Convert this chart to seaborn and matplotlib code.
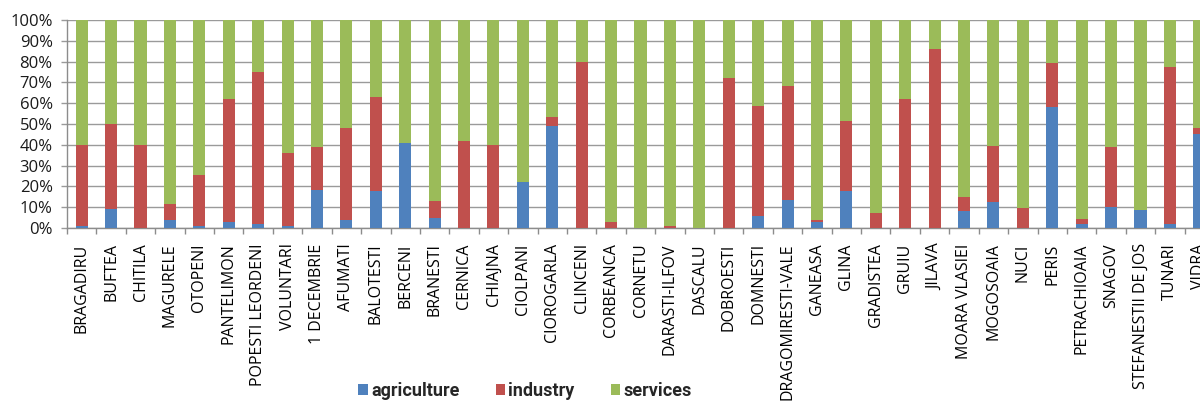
import matplotlib
matplotlib.use("Agg")
import matplotlib.pyplot as plt
import seaborn as sns
import pandas as pd
import numpy as np
from matplotlib.patches import Patch

categories = ["BRAGADIRU", "BUFTEA", "CHITILA", "MAGURELE", "OTOPENI", "PANTELIMON",
              "POPESTI LEORDENI", "VOLUNTARI", "1 DECEMBRIE", "AFUMATI", "BALOTESTI",
              "BERCENI", "BRANESTI", "CERNICA", "CHIAJNA", "CIOLPANI", "CIOROGARLA",
              "CLINCENI", "CORBEANCA", "CORNETU", "DARASTI-ILFOV", "DASCALU", "DOBROESTI",
              "DOMNESTI", "DRAGOMIRESTI-VALE", "GANEASA", "GLINA", "GRADISTEA", "GRUIU",
              "JILAVA", "MOARA VLASIEI", "MOGOSOAIA", "NUCI", "PERIS", "PETRACHIOAIA",
              "SNAGOV", "STEFANESTII DE JOS", "TUNARI", "VIDRA"]

agriculture = [1, 9, 0, 4, 1, 3, 2, 1, 18.4, 4, 18, 41, 5, 0, 0, 22, 49, 0, 0, 0, 0, 0, 0,
               6, 13.5, 3, 18, 0, 0, 0, 8, 12.6, 0, 58, 2, 10, 8.5, 2, 45]
industry = [39, 41, 40, 7.6, 24.3, 59, 73, 35, 20.6, 44, 45, 0, 8, 42, 40, 0, 4.5, 80, 3, 0, 1, 0, 72,
            52.5, 55, 1, 33.5, 7, 62, 86, 7, 27, 9.5, 21.5, 2.2, 29, 0, 75.5, 3]
services = [100 - a - i for a, i in zip(agriculture, industry)]

yticks = [0, 10, 20, 30, 40, 50, 60, 70, 80, 90, 100]
ytick_labels = [f"{t}%" for t in yticks]
series_names = ["agriculture", "industry", "services"]
colors = ["#4F81BD", "#C0504D", "#9BBB59"]

df = pd.DataFrame({"commune": categories, "agriculture": agriculture,
                   "industry": industry, "services": services})

sns.set_theme(style="white")
plt.rcParams["font.family"] = ["Open Sans", "DejaVu Sans"]

fig = plt.figure(figsize=(12, 4.03), dpi=100)
ax = fig.add_axes([67 / 1200, 175 / 403, 1147 / 1200, 208 / 403])

bottom = np.zeros(len(categories))
for name, col in zip(series_names, colors):
    sns.barplot(data=df, x="commune", y=name, color=col, bottom=bottom,
                width=0.41, ax=ax, saturation=1, zorder=3, linewidth=0)
    bottom = bottom + df[name].values

ax.set_xlim(-0.5, len(categories) - 0.5)
ax.set_ylim(0, 100)
ax.set_yticks(yticks)
ax.set_yticklabels(ytick_labels, fontsize=12, color="#1a1a1a")
ax.yaxis.grid(True, color="#9a9a9a", linewidth=1, zorder=0)
ax.set_axisbelow(True)
ax.set_xlabel("")
ax.set_ylabel("")

ax.set_xticks(range(len(categories)))
ax.set_xticklabels(categories, rotation=90, fontsize=11.5, color="#000000")
ax.tick_params(axis="x", which="major", bottom=True, length=0, pad=11)
ax.tick_params(axis="y", left=True, length=4.3, width=1, color="#9a9a9a", direction="out", pad=6)
# boundary tick marks
ax.set_xticks(np.arange(-0.5, len(categories), 1), minor=True)
ax.tick_params(axis="x", which="minor", bottom=True, length=4, color="#8c8c8c", width=1,
               direction="out")

for s in ["top", "right"]:
    ax.spines[s].set_visible(False)
for s in ["left", "bottom"]:
    ax.spines[s].set_color("#8c8c8c")
    ax.spines[s].set_linewidth(1)

handles = [Patch(facecolor=c, edgecolor="none") for c in colors]
fig.legend(handles, series_names, loc="center", bbox_to_anchor=(525 / 1200, 1 - 391 / 403),
           ncol=3, frameon=False, handlelength=0.55, handleheight=0.55, handletextpad=0.15,
           columnspacing=2.0, borderpad=0,
           prop={"family": "Roboto", "weight": "bold", "size": 13})

fig.savefig("out.png", dpi=100)
